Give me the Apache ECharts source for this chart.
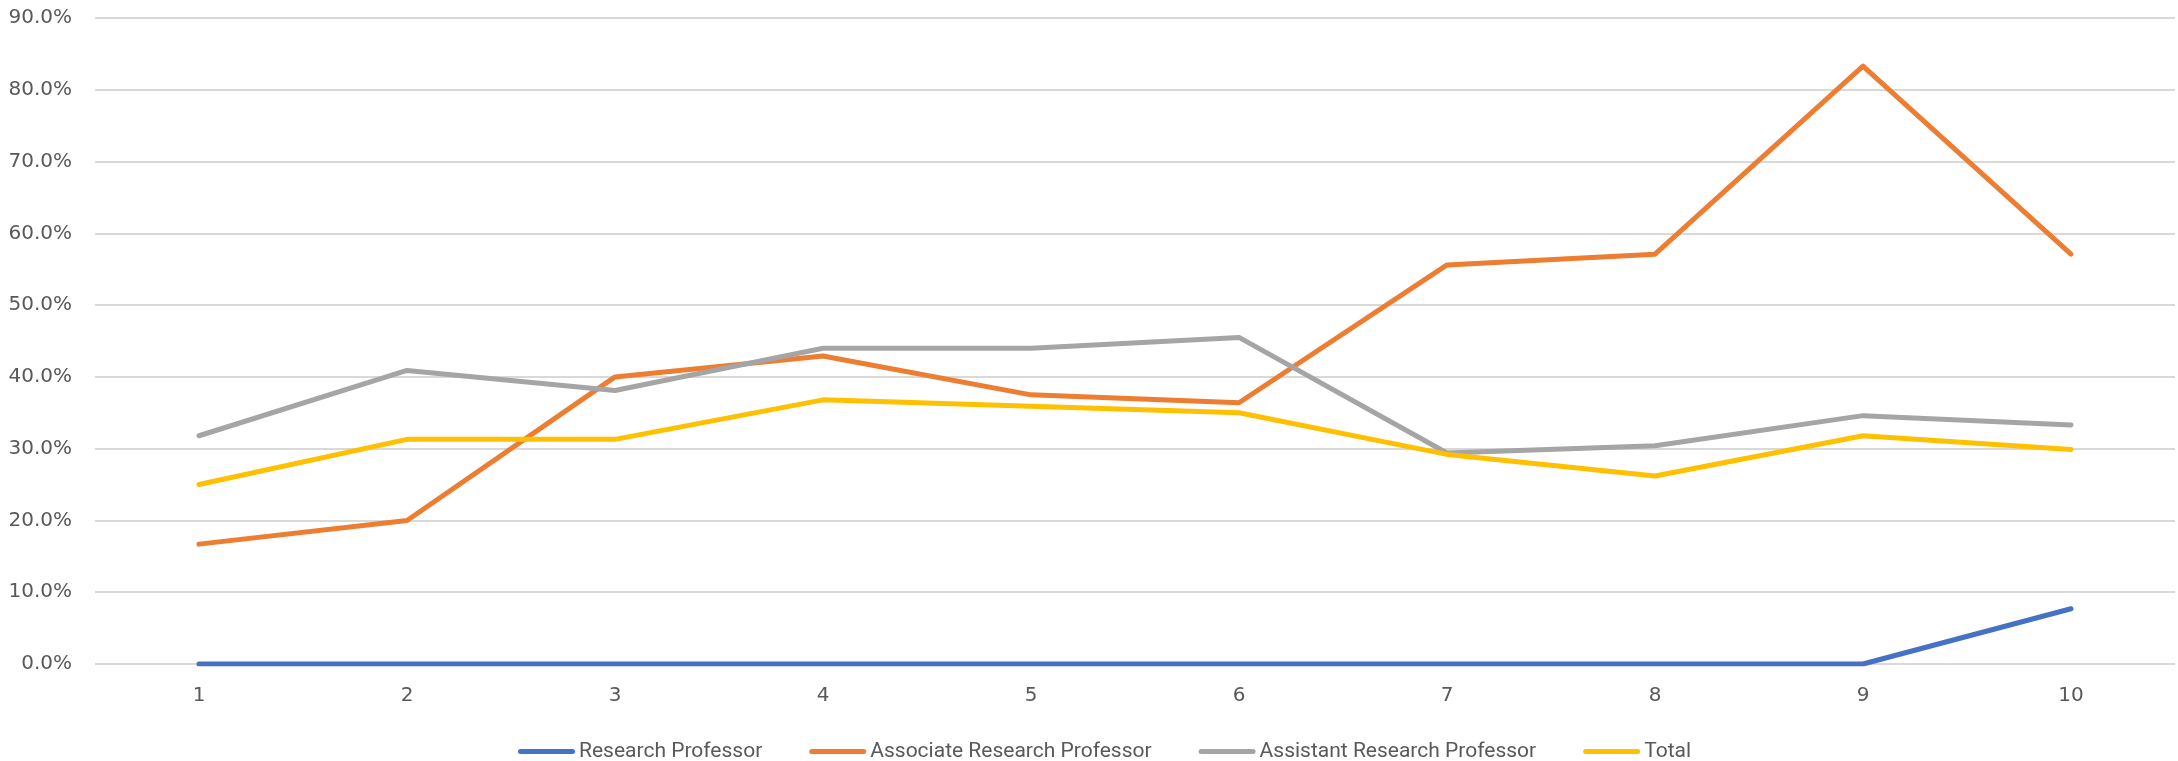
<!DOCTYPE html>
<html>
<head>
<meta charset="utf-8">
<title>Research faculty share by year</title>
<script src="https://cdn.jsdelivr.net/npm/echarts@6/dist/echarts.min.js"></script>
<style>
  html, body { margin: 0; padding: 0; background: #ffffff; }
  #chart { width: 2178px; height: 761px; }
</style>
</head>
<body>
<div id="chart"></div>
<script>
// Category labels along the x axis
const categories = ['1', '2', '3', '4', '5', '6', '7', '8', '9', '10'];

// Shares per rank (fractions, shown as percentages)
const researchProfessor = [0, 0, 0, 0, 0, 0, 0, 0, 0, 0.077];
const associateResearchProfessor = [0.167, 0.200, 0.400, 0.429, 0.375, 0.364, 0.556, 0.571, 0.833, 0.571];
const assistantResearchProfessor = [0.318, 0.409, 0.381, 0.440, 0.440, 0.455, 0.294, 0.304, 0.346, 0.333];
const total = [0.250, 0.313, 0.313, 0.368, 0.359, 0.350, 0.292, 0.262, 0.318, 0.299];

const seriesNames = ['Research Professor', 'Associate Research Professor', 'Assistant Research Professor', 'Total'];
const seriesData = [researchProfessor, associateResearchProfessor, assistantResearchProfessor, total];
const seriesColors = ['#4472C4', '#ED7D31', '#A5A5A5', '#FFC000'];

// Capsule-shaped legend marker (a short thick line with round ends)
const capsule = 'path://M2.5,0 L54.5,0 A2.5,2.5 0 0 1 54.5,5 L2.5,5 A2.5,2.5 0 0 1 2.5,0 Z';

const axisFont = { fontFamily: 'DejaVu Sans', fontSize: 20, color: '#595959' };

const chart = echarts.init(document.getElementById('chart'), null, { renderer: 'canvas' });

chart.setOption({
  animation: false,
  backgroundColor: '#ffffff',
  grid: { left: 95, right: 3, top: 18, bottom: 97, containLabel: false },
  legend: {
    top: 736,
    left: 513,
    itemWidth: 57,
    itemHeight: 5,
    itemGap: 47,
    icon: capsule,
    textStyle: { fontFamily: 'Roboto', fontSize: 21, color: '#595959', padding: [0, 0, 0, -1] },
    data: seriesNames
  },
  xAxis: {
    type: 'category',
    data: categories,
    boundaryGap: true,
    axisLine: { show: false },
    axisTick: { show: false },
    axisLabel: Object.assign({ margin: 22 }, axisFont)
  },
  yAxis: {
    type: 'value',
    min: 0,
    max: 0.9,
    interval: 0.1,
    axisLine: { show: false },
    axisTick: { show: false },
    axisLabel: Object.assign({
      margin: 23,
      formatter: v => (v * 100).toFixed(1) + '%'
    }, axisFont),
    splitLine: { lineStyle: { color: '#D9D9D9', width: 2 } }
  },
  series: seriesNames.map((name, i) => ({
    name: name,
    type: 'line',
    data: seriesData[i],
    symbol: 'none',
    color: seriesColors[i],
    lineStyle: { width: 5, color: seriesColors[i], cap: 'round', join: 'round' }
  }))
});
</script>
</body>
</html>
